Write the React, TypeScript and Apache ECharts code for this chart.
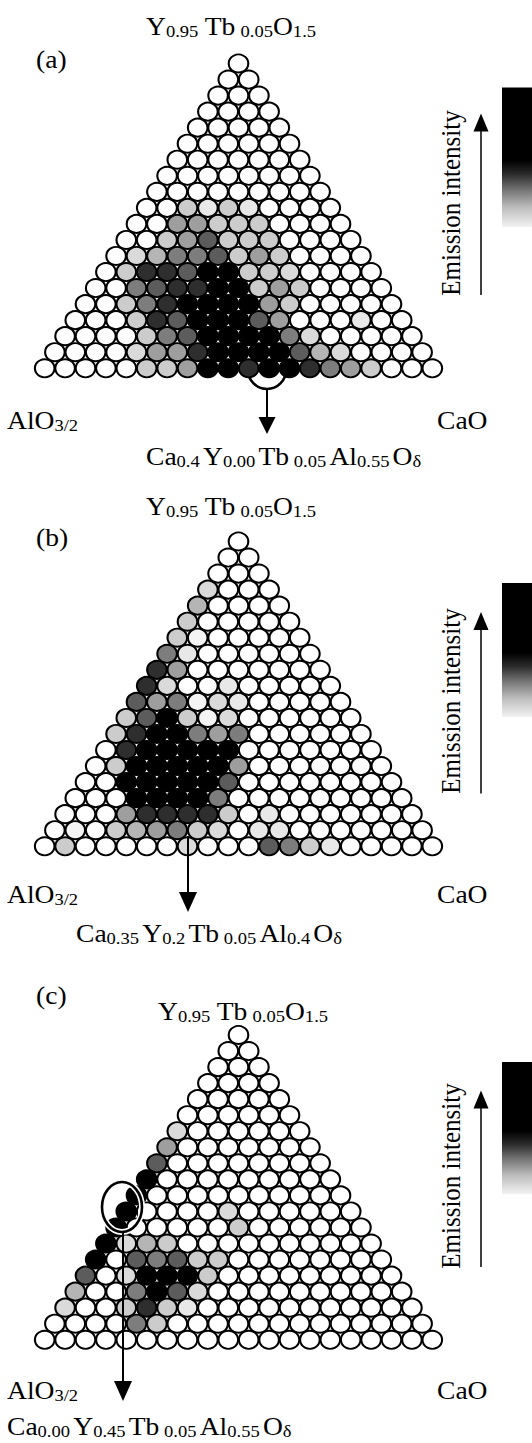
import { useEffect, useRef } from 'react';
import * as echarts from 'echarts';

// ---------- data: emission intensity of each composition (0 = none ... 5 = strongest)
// row 0 = apex (Y0.95Tb0.05O1.5), row 19 = AlO3/2 (left) ... CaO (right) edge
const intensityA: number[][] = [
  [0],
  [0, 0],
  [0, 0, 0],
  [0, 0, 0, 0],
  [0, 0, 0, 0, 0],
  [0, 0, 0, 0, 0, 0],
  [0, 0, 0, 0, 0, 0, 0],
  [0, 0, 0, 0, 0, 0, 0, 0],
  [0, 0, 0, 0, 0, 0, 0, 0, 0],
  [0, 0, 2, 1, 2, 1, 0, 0, 0, 0],
  [0, 0, 3, 3, 2, 2, 2, 0, 0, 0, 0],
  [0, 0, 2, 3, 4, 2, 2, 2, 0, 0, 0, 0],
  [0, 1.5, 2.5, 3.5, 3.5, 4, 2, 3, 2, 0, 0, 0, 0],
  [0, 2, 4.5, 4.5, 4, 5, 5, 2, 2, 1.5, 0, 0, 0, 0],
  [0, 0, 3.5, 4, 4.5, 4.5, 5, 5, 2, 3, 2, 0, 0, 0, 0],
  [0, 0, 2, 3.5, 4.5, 5, 5, 5, 5, 3, 2, 0, 0, 0, 0, 0],
  [0, 0, 0, 2, 4.5, 4, 5, 5, 5, 4, 3, 0, 0, 0, 1, 0, 0],
  [0, 0, 0, 0, 2, 3.5, 4, 5, 5, 5, 5, 3.5, 1.5, 0, 0, 0, 0, 0],
  [0, 0, 0, 0, 1.5, 3, 3, 4.5, 5, 5, 5, 5, 4, 2.5, 1.5, 0, 0, 0, 0],
  [0, 0, 0, 0, 0, 2, 2, 3, 5, 5, 4.5, 5, 5, 4.5, 3.5, 3, 2, 0, 0, 0],
];

const intensityB: number[][] = [
  [0],
  [0, 0],
  [0, 0, 0],
  [1.5, 0, 0, 0],
  [2.5, 0, 0, 0, 0],
  [2, 0, 0, 0, 0, 0],
  [2, 0.5, 0, 0, 0, 0, 0],
  [3.5, 1, 0, 0, 0, 0, 0, 0],
  [4.5, 3, 0, 0, 0, 0, 0, 0, 0],
  [4.5, 1.5, 0, 0, 1, 0, 0, 0, 0, 0],
  [4, 3, 3.5, 0.5, 1.5, 1, 0, 0, 0, 0, 0],
  [2, 4, 5, 2, 0.5, 1.5, 0, 0, 0, 0, 0, 0],
  [2, 4.5, 5, 5, 3.5, 3, 3.5, 0, 0, 0, 0, 0, 0],
  [0, 4.5, 5, 5, 5, 5, 5, 0, 0, 0, 0, 0, 0, 0],
  [0, 2, 5, 5, 5, 5, 5, 3, 0, 0, 0, 0, 0, 0, 0],
  [0, 0, 5, 5, 5, 5, 5, 4, 0, 0, 0, 0, 0, 0, 0, 0],
  [0, 0, 0, 5, 5, 5, 5, 3.5, 0, 0, 0, 0, 0, 0, 0, 0, 0],
  [0, 0, 0, 3, 4.5, 4.5, 4.5, 4.5, 2, 0, 1, 0, 0, 0, 0, 0, 0, 0],
  [0, 0.5, 0, 2, 2.5, 3, 3.5, 2, 1.5, 0, 1, 1, 0, 0, 0, 0, 0, 0, 0],
  [0, 2, 0, 0, 0, 0, 0, 1.5, 0, 0, 0, 4, 3.5, 2, 1, 0, 0, 0, 0, 0],
];

const intensityC: number[][] = [
  [0],
  [0, 0],
  [0, 0, 0],
  [0, 0, 0, 0],
  [0, 0, 0, 0, 0],
  [0, 0, 0, 0, 0, 0],
  [1.5, 0, 0, 0, 0, 0, 0],
  [3, 0, 0, 0, 0, 0, 0, 0],
  [4, 0, 0, 0, 0, 0, 0, 0, 0],
  [5, 0, 0, 0, 0, 0, 0, 0, 0, 0],
  [5, 0, 0, 0, 0, 0, 0, 0, 0, 0, 0],
  [5, 0, 0, 0, 0, 1.5, 0, 0, 0, 0, 0, 0],
  [5, 0, 0, 0, 0, 0, 2, 0, 0, 0, 0, 0, 0],
  [5, 1.5, 2.5, 2, 0, 0, 0, 0, 0, 0, 0, 0, 0, 0],
  [5, 0, 4, 3.5, 4, 2, 2, 0, 0, 0, 0, 0, 0, 0, 0],
  [4, 0, 1.5, 5, 5, 5, 2, 0, 0, 0, 0, 0, 0, 0, 0, 0],
  [2.5, 0, 0, 3.5, 5, 4, 1.5, 0, 0, 0, 0, 0, 0, 0, 0, 0, 0],
  [1.5, 0, 0, 2, 4.5, 2, 1, 0, 0, 0, 0, 0, 0, 0, 0, 0, 0, 0],
  [0, 0, 0, 0, 3.5, 2, 0, 0, 0, 0, 0, 0, 0, 0, 0, 0, 0, 0, 0],
  [0, 0, 0, 0, 0, 0, 0, 0, 0, 0, 0, 0, 0, 0, 0, 0, 0, 0, 0, 0],
];

// ---------- texts
const panelLetters = ['(a)', '(b)', '(c)'];
const apexLabel = '{m|Y}{s|0.95}{m| Tb}{s| 0.05}{m|O}{s|1.5}';
const leftCornerLabel = '{m|AlO}{s|3/2}';
const rightCornerLabel = '{m|CaO}';
const arrowLabels = [
  '{m|Ca}{u|0.4}{m|Y}{u|0.00}{m|Tb}{u| 0.05}{m|Al}{u|0.55}{m|O}{s|δ}',
  '{m|Ca}{u|0.35}{m|Y}{u|0.2}{m|Tb}{u| 0.05}{m|Al}{u|0.4}{m|O}{s|δ}',
  '{m|Ca}{u|0.00}{m|Y}{u|0.45}{m|Tb}{u| 0.05}{m|Al}{u|0.55}{m|O}{s|δ}',
];
const colorbarTitle = 'Emission intensity';

// grey level for each intensity step (0..5)
const greySteps = [255, 232, 204, 158, 92, 0];

// ---------- layout (pixels)
const W = 532;
const H = 1443;
const CX = 238.5;
const DX = 20.4;
const DY = 16.04;
const SERIF = '"Liberation Serif", "Times New Roman", Times, serif';
const FS = 26;
const FS_SUB = 17.5;
const STRETCH = 1.06;

const layout = [
  {
    apexY: 63.5, letterY: 67, apexTextX: 146, apexTextY: 34, cornerY: 428,
    arrowTextX: 146, arrowTextY: 464, barTop: 87.5, barBottom: 227,
    emisY: 203, emTop: 113.6, emBottom: 295,
  },
  {
    apexY: 541.5, letterY: 545, apexTextX: 146, apexTextY: 514, cornerY: 902,
    arrowTextX: 76, arrowTextY: 941, barTop: 583, barBottom: 717,
    emisY: 701, emTop: 612, emBottom: 793.5,
  },
  {
    apexY: 1035, letterY: 1003, apexTextX: 158, apexTextY: 1019, cornerY: 1398,
    arrowTextX: 7, arrowTextY: 1434, barTop: 1062, barBottom: 1194,
    emisY: 1176, emTop: 1090.5, emBottom: 1267,
  },
];

function grey(v: number): string {
  const i = Math.max(0, Math.min(4, Math.floor(v)));
  const f = Math.max(0, Math.min(1, v - i));
  const g = Math.round(greySteps[i] + (greySteps[Math.min(5, i + 1)] - greySteps[i]) * f);
  return `rgb(${g},${g},${g})`;
}

function toPoints(rows: number[][]) {
  const pts: number[][] = [];
  rows.forEach((row, r) => {
    row.forEach((v, k) => {
      pts.push([k - r / 2, r, v]);
    });
  });
  return pts;
}

const MAIN_LH = 29;
const richStyles = {
  m: { fontSize: FS, fontFamily: SERIF, lineHeight: MAIN_LH, verticalAlign: 'bottom', fill: '#000' },
  s: { fontSize: FS_SUB, fontFamily: SERIF, lineHeight: 16, verticalAlign: 'bottom', fill: '#000' },
  u: { fontSize: FS_SUB, fontFamily: SERIF, lineHeight: 16, verticalAlign: 'bottom', fill: '#000', padding: [0, 3, 0, 0] },
};
const BASE_OFF = MAIN_LH / 2 + 0.3375 * FS;

function label(text: string, x: number, baseline: number) {
  return {
    type: 'text',
    x,
    y: baseline - BASE_OFF,
    scaleX: STRETCH,
    z: 20,
    silent: true,
    style: {
      text,
      rich: richStyles,
      align: 'left',
      verticalAlign: 'top',
      textAlign: 'left',
      textVerticalAlign: 'top',
      fill: '#000',
      fontSize: FS,
      fontFamily: SERIF,
    },
  };
}

function arrowDown(x: number, y1: number, y2: number, tip: number, half: number, lw: number) {
  return [
    { type: 'line', z: 20, silent: true, shape: { x1: x, y1, x2: x, y2 }, style: { stroke: '#000', lineWidth: lw } },
    {
      type: 'polygon', z: 20, silent: true,
      shape: { points: [[x - half, y2 - 1], [x + half, y2 - 1], [x, tip]] },
      style: { fill: '#000' },
    },
  ];
}

function buildOption() {
  const datasets = [intensityA, intensityB, intensityC];
  const elements: any[] = [];

  layout.forEach((l, i) => {
    elements.push(label(`{m|${panelLetters[i]}}`, 36, l.letterY));
    elements.push(label(apexLabel, l.apexTextX, l.apexTextY));
    elements.push(label(leftCornerLabel, 7, l.cornerY));
    elements.push(label(rightCornerLabel, 437, l.cornerY));
    elements.push(label(arrowLabels[i], l.arrowTextX, l.arrowTextY));

    // colour bar
    elements.push({
      type: 'rect', z: 5, silent: true,
      shape: { x: 502, y: l.barTop, width: 31, height: l.barBottom - l.barTop },
      style: {
        fill: new echarts.graphic.LinearGradient(0, 0, 0, 1, [
          { offset: 0, color: '#000' },
          { offset: 0.52, color: '#000' },
          { offset: 0.62, color: '#2a2a2a' },
          { offset: 0.73, color: '#727272' },
          { offset: 0.86, color: '#bdbdbd' },
          { offset: 1, color: '#f2f2f2' },
        ]),
      },
    });
    // "Emission intensity" with upward arrow
    elements.push({
      type: 'text', x: 451, y: l.emisY, rotation: Math.PI / 2, scaleY: STRETCH, z: 20, silent: true,
      style: {
        text: colorbarTitle, fontSize: 25, fontFamily: SERIF, fill: '#000',
        align: 'center', verticalAlign: 'middle', textAlign: 'center', textVerticalAlign: 'middle',
      },
    });
    elements.push({
      type: 'line', z: 20, silent: true,
      shape: { x1: 481, y1: l.emBottom, x2: 481, y2: l.emTop + 12 },
      style: { stroke: '#000', lineWidth: 1.5 },
    });
    elements.push({
      type: 'polygon', z: 20, silent: true,
      shape: { points: [[473.5, l.emTop + 18], [488.5, l.emTop + 18], [481, l.emTop]] },
      style: { fill: '#000' },
    });
  });

  // (a) half circle under the marked composition + arrow
  elements.push({
    type: 'arc', z: 1, silent: true,
    shape: { cx: 267, cy: 370, r: 19, startAngle: 0, endAngle: Math.PI, clockwise: true },
    style: { stroke: '#000', lineWidth: 2.6, fill: 'none' },
  });
  elements.push(...arrowDown(267, 389, 418, 434, 8.5, 2));
  // (b) arrow
  elements.push(...arrowDown(188, 836, 893, 912, 9, 2));
  // (c) ellipse + arrow
  elements.push({
    type: 'ellipse', z: 18, silent: true,
    shape: { cx: 122, cy: 1207, rx: 20, ry: 25 },
    style: { stroke: '#fff', lineWidth: 6, fill: 'none' },
  });
  elements.push({
    type: 'ellipse', z: 19, silent: true,
    shape: { cx: 122, cy: 1207, rx: 20, ry: 25 },
    style: { stroke: '#000', lineWidth: 2.6, fill: 'none' },
  });
  elements.push(...arrowDown(123, 1232, 1382, 1401, 9, 2));

  return {
    animation: false,
    backgroundColor: '#fff',
    grid: layout.map((l) => ({
      left: CX - 10 * DX,
      width: 20 * DX,
      top: l.apexY - 0.5 * DY,
      height: 20 * DY,
      containLabel: false,
    })),
    xAxis: layout.map((_, i) => ({ type: 'value', gridIndex: i, min: -10, max: 10, show: false })),
    yAxis: layout.map((_, i) => ({ type: 'value', gridIndex: i, min: -0.5, max: 19.5, inverse: true, show: false })),
    series: datasets.map((rows, i) => ({
      type: 'scatter',
      xAxisIndex: i,
      yAxisIndex: i,
      data: toPoints(rows),
      symbol: 'circle',
      symbolSize: [19.6, 18],
      silent: true,
      z: 2,
      itemStyle: {
        color: (p: any) => grey(p.value[2]),
        borderColor: '#000',
        borderWidth: 2,
        opacity: 1,
      },
      emphasis: { disabled: true },
    })),
    graphic: { elements },
  };
}

export default function App() {
  const ref = useRef<HTMLDivElement>(null);
  useEffect(() => {
    document.body.style.margin = '0';
    const chart = echarts.init(ref.current as HTMLDivElement, null, { renderer: 'svg', width: W, height: H });
    chart.setOption(buildOption() as any);
    return () => chart.dispose();
  }, []);
  return (
    <div
      ref={ref}
      style={{ width: W, height: H, position: 'absolute', left: 0, top: 0, background: '#fff' }}
    />
  );
}
